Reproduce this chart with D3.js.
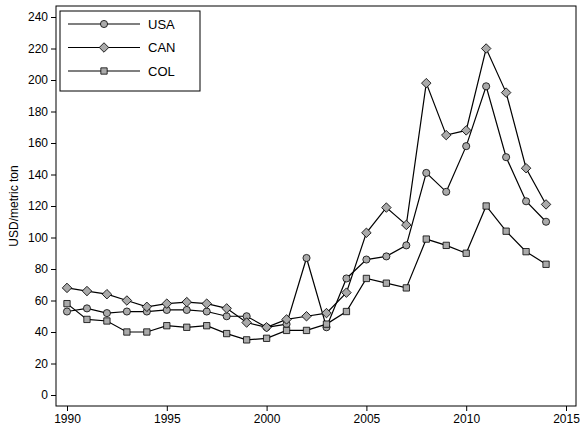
<!DOCTYPE html>
<html><head><meta charset="utf-8">
<script src="https://cdn.jsdelivr.net/npm/d3@7"></script>
<style>body{margin:0;background:#fff}text{font-family:"Liberation Sans",Arial,sans-serif}</style>
</head><body>
<svg id="c" width="583" height="429"></svg>
<script>
const years = d3.range(1990, 2015)
const usa = [53,55,52,53,53,54,54,53,50,50,43,45,87,43,74,86,88,95,141,129,158,196,151,123,110]
const can = [68,66,64,60,56,58,59,58,55,46,43,48,50,52,65,103,119,108,198,165,168,220,192,144,121]
const col = [58,48,47,40,40,44,43,44,39,35,36,41,41,45,53,74,71,68,99,95,90,120,104,91,83]
const xTicks = [1990,1995,2000,2005,2010,2015]
const yTicks = d3.range(0, 241, 20)
const series = [
    { name: 'USA', values: usa, shape: d3.symbolCircle, size: 40, rot: 0 },
    { name: 'CAN', values: can, shape: d3.symbolSquare, size: 45, rot: 45 },
    { name: 'COL', values: col, shape: d3.symbolSquare, size: 40, rot: 0 }
]

const svg = d3.select('#c')
const x = d3.scaleLinear().domain([1990, 2015]).range([67, 566])
const y = d3.scaleLinear().domain([0, 240]).range([395, 17])

svg.append('rect').attr('x', 56).attr('y', 6).attr('width', 520).attr('height', 400)
    .attr('fill', 'none').attr('stroke', '#000')

svg.append('g').attr('transform', 'translate(0,406)')
    .call(d3.axisBottom(x).tickValues(xTicks).tickFormat(d3.format('d')).tickSizeOuter(0).tickSize(5))
    .call(g => g.select('.domain').remove())
    .call(g => g.selectAll('text').attr('font-size', 12).attr('fill', '#000'))
svg.append('g').attr('transform', 'translate(56,0)')
    .call(d3.axisLeft(y).tickValues(yTicks).tickSizeOuter(0).tickSize(5))
    .call(g => g.select('.domain').remove())
    .call(g => g.selectAll('text').attr('font-size', 12).attr('fill', '#000'))

svg.append('text').attr('transform', 'translate(18,206) rotate(-90)')
    .attr('text-anchor', 'middle').attr('font-size', 12).text('USD/metric ton')

const line = d3.line().x((d, i) => x(years[i])).y(d => y(d))
series.forEach(s => {
    svg.append('path').attr('d', line(s.values)).attr('fill', 'none').attr('stroke', '#000').attr('stroke-width', 1.2)
    svg.selectAll(null).data(s.values).join('path')
        .attr('transform', (d, i) => `translate(${x(years[i])},${y(d)}) rotate(${s.rot})`)
        .attr('d', d3.symbol(s.shape, s.size))
        .attr('fill', '#aaa').attr('stroke', '#000').attr('stroke-width', 0.8)
})

const lg = svg.append('g')
lg.append('rect').attr('x', 60).attr('y', 11).attr('width', 140).attr('height', 80)
    .attr('fill', '#fff').attr('stroke', '#000')
series.forEach((s, i) => {
    const yy = 24 + i * 23.5
    lg.append('line').attr('x1', 68).attr('x2', 140).attr('y1', yy).attr('y2', yy).attr('stroke', '#000').attr('stroke-width', 1.2)
    lg.append('path').attr('transform', `translate(104,${yy}) rotate(${s.rot})`).attr('d', d3.symbol(s.shape, s.size))
        .attr('fill', '#aaa').attr('stroke', '#000').attr('stroke-width', 0.8)
    lg.append('text').attr('x', 148).attr('y', yy + 4.5).attr('font-size', 13).text(s.name)
})
</script>
</body></html>
